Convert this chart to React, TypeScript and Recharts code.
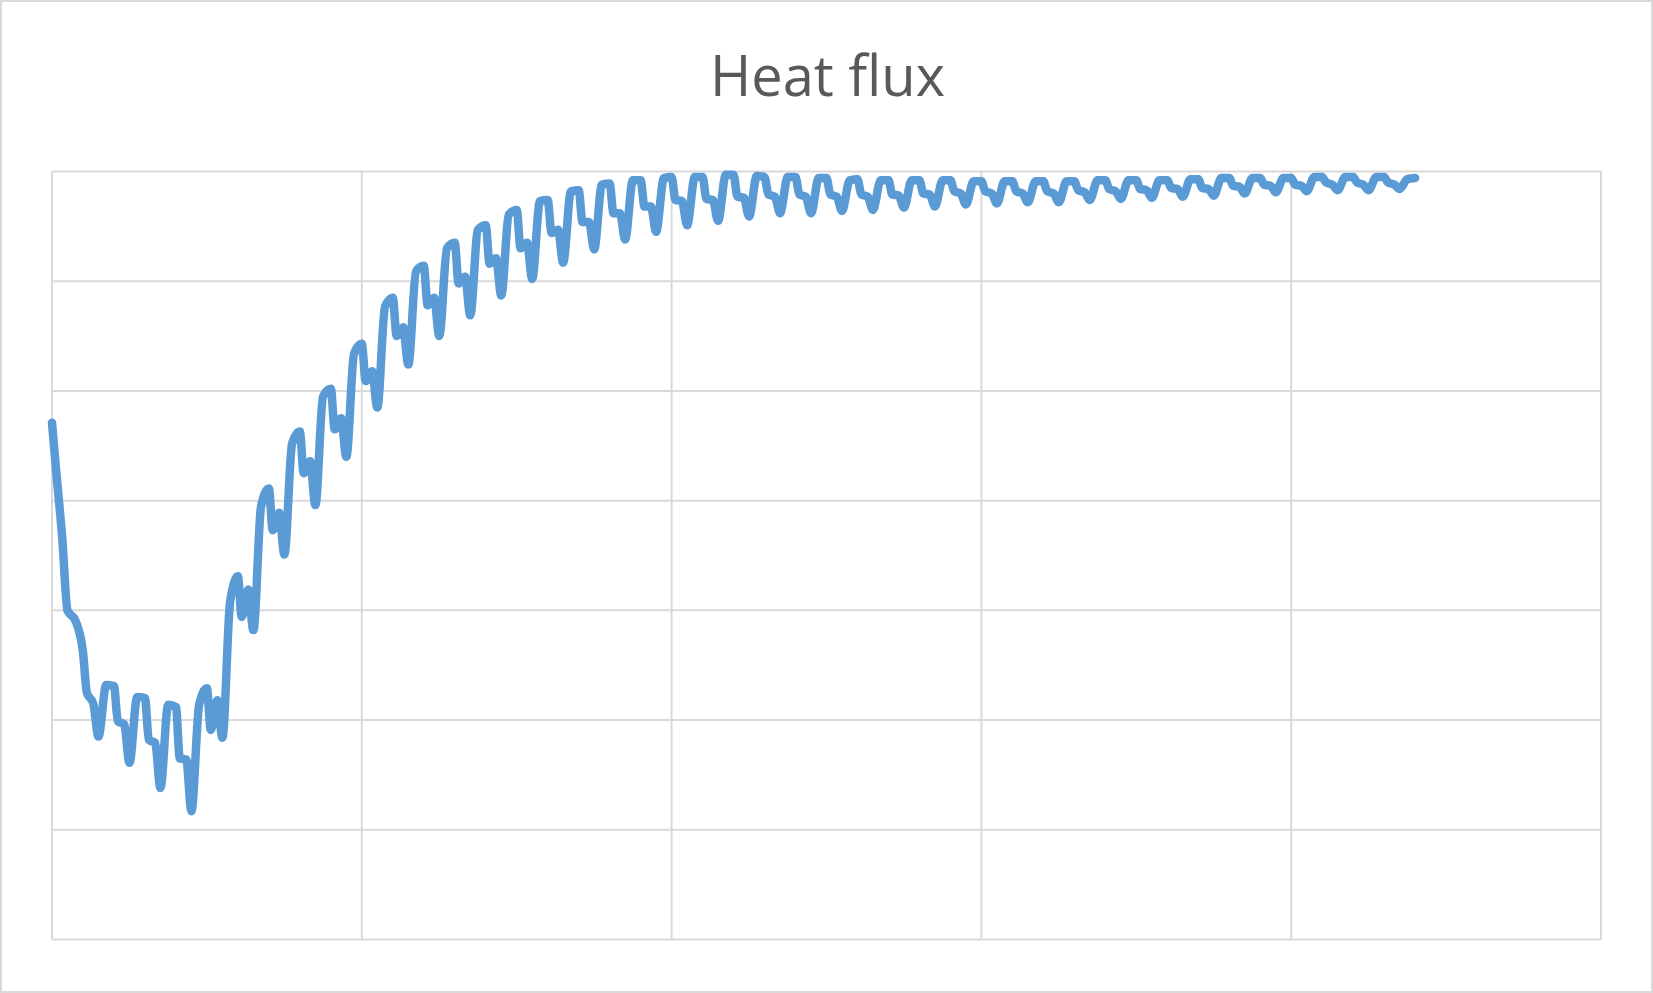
import { LineChart, Line, XAxis, YAxis, CartesianGrid } from "recharts";

// daily readings, one list per hour of the day (day 0 .. day 43, plus day 44 at 0h)
const readingHours = [0, 3, 8, 12, 18];

const fluxAt0h = [
  471, 262, 231, 220, 212, 229, 331, 411, 463, 502,
  543, 585, 614, 635, 651, 665, 674, 683, 689, 692,
  695, 695, 697, 695, 695, 694, 693, 692, 692, 692,
  691, 691, 691, 691, 692, 692, 692, 693, 694, 694,
  694, 695, 695, 695, 694,
];
const fluxAt3h = [
  430, 225, 199, 182, 165, 191, 294, 373, 425, 465,
  509, 550, 578, 598, 616, 630, 644, 654, 662, 668,
  674, 675, 677, 679, 679, 679, 679, 679, 680, 682,
  682, 682, 682, 683, 684, 684, 685, 685, 687, 688,
  688, 690, 690, 690,
];
const fluxAt8h = [
  365, 215, 196, 179, 164, 218, 319, 389, 436, 475,
  518, 558, 585, 604, 621, 635, 647, 654, 662, 668,
  673, 674, 676, 677, 677, 677, 677, 678, 679, 680,
  680, 680, 680, 681, 682, 683, 684, 684, 686, 687,
  687, 688, 688, 688,
];
const fluxAt12h = [
  300, 185, 161, 138, 117, 184, 282, 351, 396, 440,
  485, 524, 550, 569, 587, 602, 617, 629, 638, 645,
  651, 655, 659, 662, 662, 664, 665, 667, 668, 670,
  671, 672, 672, 674, 675, 676, 677, 678, 680, 681,
  682, 683, 683, 684,
];
const fluxAt18h = [
  291, 232, 221, 214, 214, 308, 395, 452, 495, 534,
  577, 609, 630, 647, 661, 673, 682, 688, 692, 694,
  695, 697, 696, 695, 694, 692, 692, 692, 692, 691,
  691, 691, 691, 692, 692, 692, 693, 694, 694, 694,
  695, 695, 695, 693,
];

const xTicks = [0, 240, 480, 720, 960, 1200];
const yTicks = [0, 100, 200, 300, 400, 500, 600, 700];

const byHour = [fluxAt0h, fluxAt3h, fluxAt8h, fluxAt12h, fluxAt18h];
const data: { t: number; q: number }[] = [];
fluxAt3h.forEach((_, day) => {
  readingHours.forEach((h, i) => {
    data.push({ t: day * 24 + h, q: byHour[i][day] });
  });
});
data.push({ t: fluxAt3h.length * 24, q: fluxAt0h[fluxAt3h.length] });

const W = 1653;
const H = 993;

export default function App() {
  return (
    <div
      style={{
        position: "fixed",
        left: 0,
        top: 0,
        width: W,
        height: H,
        background: "#fff",
        boxSizing: "border-box",
        border: "2px solid #D9D9D9",
      }}
    >
      <svg width={W} height={H} style={{ position: "absolute", left: -2, top: -2 }}>
        <text
          x={W / 2 + 1}
          y={96}
          textAnchor="middle"
          fontFamily="'Open Sans', sans-serif"
          fontSize={56}
          fill="#595959"
        >
          Heat flux
        </text>
      </svg>
      <div style={{ position: "absolute", left: -2, top: -2 }}>
        <LineChart
          width={W}
          height={H}
          data={data}
          margin={{ top: 171.5, right: 52, bottom: 53.5, left: 52 }}
        >
          <CartesianGrid stroke="#D9D9D9" strokeWidth={2} />
          <XAxis dataKey="t" type="number" domain={[0, 1200]} ticks={xTicks} hide />
          <YAxis type="number" domain={[0, 700]} ticks={yTicks} hide />
          <Line
            dataKey="q"
            type="monotoneX"
            stroke="#5B9BD5"
            strokeWidth={8.5}
            strokeLinejoin="round"
            strokeLinecap="round"
            dot={false}
            isAnimationActive={false}
          />
        </LineChart>
      </div>
    </div>
  );
}
